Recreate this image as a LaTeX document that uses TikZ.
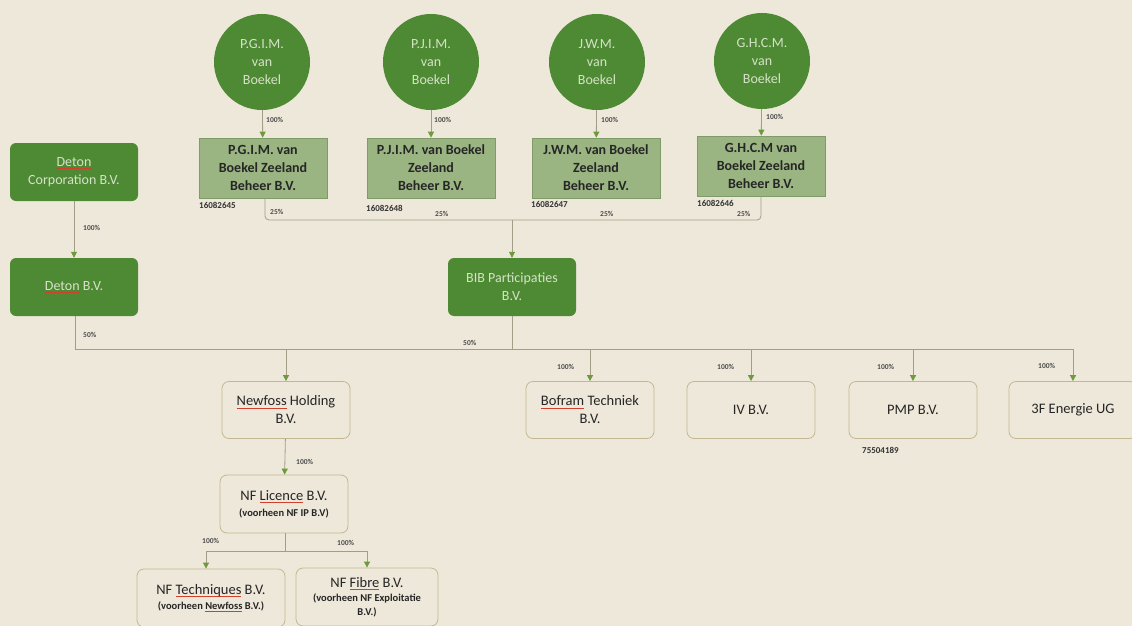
\documentclass[tikz,border=0pt]{standalone}
\usepackage{fontspec}
\setmainfont{Carlito}
\usetikzlibrary{arrows.meta}
\definecolor{bg}{HTML}{EEE8DA}
\definecolor{dkgreen}{HTML}{4E8A34}
\definecolor{lgreen}{HTML}{9AB482}
\definecolor{lgborder}{HTML}{7F9C68}
\definecolor{circtext}{HTML}{D6E2C8}
\definecolor{lnk}{HTML}{A39C86}
\definecolor{tipg}{HTML}{6C9B3C}
\definecolor{oborder}{HTML}{C4B791}
\definecolor{sqred}{HTML}{D0402C}
\newsavebox\splbox
\newcommand\spl[1]{\sbox\splbox{#1}\rlap{\textcolor{sqred}{\rule[-2.6pt]{\wd\splbox}{0.6pt}}}\usebox\splbox}
\newcommand\subtxt{\bfseries\fontsize{10.5}{12}\selectfont}
\tikzset{
  circ/.style={circle, fill=dkgreen, minimum size=96pt, inner sep=0pt, text=circtext,
    font=\fontsize{14}{18}\selectfont, align=center},
  lgbox/.style={rectangle, fill=lgreen, draw=lgborder, line width=0.6pt, minimum width=128pt,
    minimum height=60pt, inner sep=1pt, align=center, text=black!85,
    font=\bfseries\fontsize{14}{18}\selectfont},
  dkbox/.style={rectangle, rounded corners=6pt, fill=dkgreen, minimum width=128pt,
    minimum height=58pt, inner sep=2pt, align=center, text=circtext,
    font=\fontsize{14}{18}\selectfont},
  obox/.style={rectangle, rounded corners=7pt, draw=oborder, line width=0.8pt, fill=bg,
    minimum width=128pt, minimum height=57pt, inner sep=2pt, align=center, text=black!85,
    font=\fontsize{14.5}{18}\selectfont},
  lnkline/.style={draw=lnk, line width=0.8pt},
  arr/.style={lnkline, -{Triangle[length=6pt,width=6pt,color=tipg]}},
  pct/.style={anchor=west, inner sep=0pt, text=black!70, font=\bfseries\fontsize{7.5}{8}\selectfont},
  regno/.style={anchor=north west, inner sep=0pt, text=black!80, font=\bfseries\fontsize{9}{10}\selectfont}
}
\begin{document}
\begin{tikzpicture}[x=1pt,y=-1pt]
\fill[bg] (0,0) rectangle (1132,626);
\useasboundingbox (0,0) rectangle (1132,626);

% persons
\node[circ] (c1) at (262,62) {P.G.I.M.\\van\\Boekel};
\node[circ] (c2) at (431,62) {P.J.I.M.\\van\\Boekel};
\node[circ] (c3) at (597,62) {J.W.M.\\van\\Boekel};
\node[circ] (c4) at (762,61) {G.H.C.M.\\van\\Boekel};

% holdings
\node[lgbox] (b1) at (263,168) {P.G.I.M. van\\Boekel Zeeland\\Beheer B.V.};
\node[lgbox] (b2) at (431,168) {P.J.I.M. van Boekel\\Zeeland\\Beheer B.V.};
\node[lgbox] (b3) at (596,168) {J.W.M. van Boekel\\Zeeland\\Beheer B.V.};
\node[lgbox] (b4) at (761,166) {G.H.C.M van\\Boekel Zeeland\\Beheer B.V.};

\node[regno] (r1) at (199,202) {16082645};
\node[regno] (r2) at (366,205) {16082648};
\node[regno] (r3) at (531,201) {16082647};
\node[regno] (r4) at (697,200) {16082646};

\foreach \c/\b in {c1/b1,c2/b2,c3/b3,c4/b4}{\draw[arr] (\c) -- (\b);}
\node[pct] (p1) at (266,120) {100\%};
\node[pct] (p2) at (434,120) {100\%};
\node[pct] (p3) at (601,120) {100\%};
\node[pct] (p4) at (766,117) {100\%};

% BIB
\node[dkbox] (bib) at (512,287) {BIB Participaties\\B.V.};
\coordinate (j) at (512,220);
\draw[lnkline, rounded corners=4pt] ([xshift=2pt]b1.south) |- (j);
\draw[lnkline, rounded corners=4pt] (b4.south) |- (j);
\draw[arr] (j) -- (bib);
\node[pct] (q1) at (270,212) {25\%};
\node[pct] (q2) at (435,214) {25\%};
\node[pct] (q3) at (600,214) {25\%};
\node[pct] (q4) at (737,214) {25\%};

% Deton
\node[dkbox] (dc) at (74,172) {\spl{Deton}\\Corporation B.V.};
\node[dkbox] (db) at (74,287) {\spl{Deton} B.V.};
\draw[arr] (dc) -- (db);
\node[pct] (pd) at (83,228) {100\%};

% bus
\coordinate (busL) at (75,349);
\coordinate (busR) at (1073,349);
\draw[lnkline] (db.south -| busL) -- (busL) -- (busR);
\draw[lnkline] (bib.south) -- (bib.south |- busL);
\node[pct] (f1) at (83,335) {50\%};
\node[pct] (f2) at (463,343) {50\%};

% subsidiaries
\node[obox] (nh) at (286,410) {\spl{Newfoss} Holding\\B.V.};
\node[obox] (bo) at (590,410) {\spl{Bofram} Techniek\\B.V.};
\node[obox] (iv) at (751,410) {IV B.V.};
\node[obox] (pm) at (913,410) {PMP B.V.};
\node[obox] (tf) at (1073,410) {3F Energie UG};
\foreach \n in {nh,bo,iv,pm,tf}{\draw[arr] (\n.north |- busL) -- (\n.north);}
\node[pct] (s2) at (557,367) {100\%};
\node[pct] (s3) at (717,367) {100\%};
\node[pct] (s4) at (877,367) {100\%};
\node[pct] (s5) at (1038,366) {100\%};
\node[regno] (r5) at (862,447) {75504189};

% NF tree
\node[obox, minimum height=58pt] (nl) at (284,504) {NF \spl{Licence} B.V.\\[-2pt]{\subtxt (voorheen NF IP B.V)}};
\draw[arr] (nh) -- (nl);
\node[pct] (n1) at (296,462) {100\%};

\node[obox, minimum width=148pt, minimum height=58pt] (nt) at (211,598) {NF \spl{Techniques} B.V.\\[-3pt]{\subtxt (voorheen \spl{Newfoss} B.V.)}};
\node[obox, minimum width=142pt, minimum height=58pt] (nf) at (367,597) {NF \spl{Fibre} B.V.\\[-4pt]{\subtxt (voorheen NF Exploitatie}\\[-4pt]{\subtxt B.V.)}};
\coordinate (nb) at (285,551);
\draw[lnkline] (nl.south -| nb) -- (nb);
\draw[arr] (nb) -| ([xshift=-5pt]nt.north);
\draw[arr] (nb) -| (nf.north);
\node[pct] (n2) at (202,541) {100\%};
\node[pct] (n3) at (337,543) {100\%};
\end{tikzpicture}
\end{document}
